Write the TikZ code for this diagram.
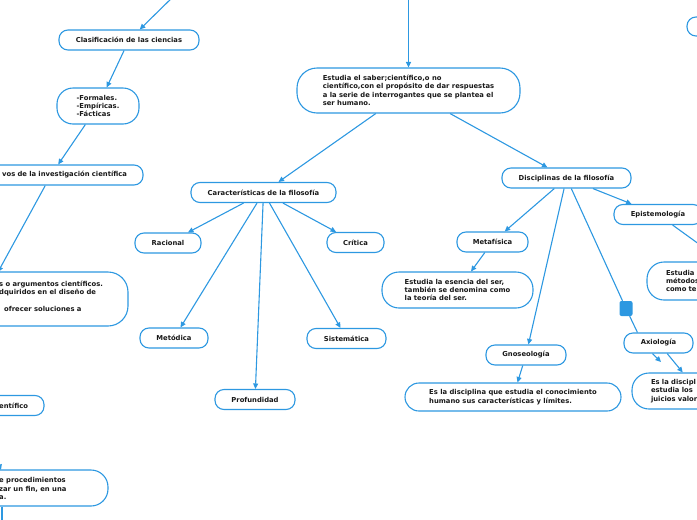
\documentclass[tikz,border=0pt]{standalone}
\usepackage{fontspec}
\setmainfont{DejaVu Sans}
\usepackage{tikz}
\usetikzlibrary{arrows.meta, positioning, calc}
\definecolor{mapblue}{RGB}{45,152,225}
\definecolor{maptext}{RGB}{25,25,25}
\newcommand{\mapsize}{\fontsize{6.8}{8.4}\selectfont}
\tikzset{
    topic/.style={rectangle, rounded corners=9pt, draw=mapblue, line width=1.1pt, fill=white, text=maptext, align=center, minimum height=20pt, inner sep=0pt, font=\mapsize\bfseries},
    note/.style={topic, rounded corners=17pt, align=left},
    tag/.style={inner sep=0pt, text=maptext, align=left, font=\mapsize\bfseries},
    arrow/.style={draw=mapblue, line width=1.1pt, -{Triangle[length=5.5pt, width=5pt]}},
    link/.style={draw=mapblue, line width=1.1pt},
    fold/.style={rectangle, rounded corners=2pt, fill=mapblue, minimum width=13pt, minimum height=15pt, inner sep=0pt}
}

\begin{document}
\begin{tikzpicture}[x=1pt, y=-1pt]
    \useasboundingbox (0,0) rectangle (697,520);
    \clip (0,0) rectangle (697,520);

    % Left branch: ciencias
    \node[topic, minimum width=140pt] (clas) at (129,40) {Clasificación de las ciencias};
    \node[note, minimum width=82pt, minimum height=36pt, rounded corners=16pt] (tipos) at (98,106) {-Formales.\\-Empíricas.\\-Fácticas};
    \node[topic, minimum width=184pt, text width=152pt, align=right] (objetivos) at (51,175) {vos de la investigación científica};
    \node[note, minimum width=188pt, minimum height=54pt, rounded corners=20pt] (goals) at (34,299) {};
    \node[tag, anchor=west] (goalstxt) at (-1,296) {s o argumentos científicos.\\dquiridos en el diseño de\\[8.4pt]\hspace*{5pt}ofrecer soluciones a};
    \node[topic, minimum width=104pt, text width=72pt, align=right] (entif) at (-8,405.5) {entífico};
    \node[note, minimum width=188pt, minimum height=36pt] (proc) at (14,488) {};
    \node[tag, anchor=west] (proctxt) at (-1,488.5) {e procedimientos\\zar un fin, en una\\a.};
    \node[topic, minimum width=100pt, minimum height=19pt] (rtbox) at (737,26.5) {};

    % Centre
    \node[note, minimum width=223pt, minimum height=45pt, rounded corners=20pt] (saber) at (408.5,90.5) {Estudia el saber;científico,o no\\científico,con el propósito de dar respuestas\\a la serie de interrogantes que se plantea el\\ser humano.};

    % Caracteristicas
    \node[topic, minimum width=145pt] (caract) at (263.5,192.5) {Características de la filosofía};
    \node[topic, minimum width=66pt] (racional) at (168,243) {Racional};
    \node[topic, minimum width=57pt] (critica) at (355.5,242.5) {Crítica};
    \node[topic, minimum width=68pt] (metodica) at (174,338) {Metódica};
    \node[topic, minimum width=79pt] (sistematica) at (346.5,338.5) {Sistemática};
    \node[topic, minimum width=80pt] (profund) at (255,399.5) {Profundidad};

    % Disciplinas
    \node[topic, minimum width=129pt] (discip) at (566.5,178) {Disciplinas de la filosofía};
    \node[topic, minimum width=88pt] (epist) at (658,214.5) {Epistemología};
    \node[note, minimum width=152pt, minimum height=38pt, text width=114pt] (estudiam) at (723,281) {Estudia\\métodos\\como te};
    \node[topic, minimum width=71pt] (metaf) at (492.5,242) {Metafísica};
    \node[note, minimum width=151pt, minimum height=36pt] (metatxt) at (457.5,290) {Estudia la esencia del ser,\\también se denomina como\\la teoría del ser.};
    \node[topic, minimum width=80pt] (gnoseo) at (526,355) {Gnoseología};
    \node[note, minimum width=216pt, minimum height=28pt, rounded corners=14pt] (gnosetxt) at (513,397) {Es la disciplina que estudia el conocimiento\\humano sus características y límites.};
    \node[topic, minimum width=69pt] (axio) at (658.5,343) {Axiología};
    \node[note, minimum width=132pt, minimum height=36pt, text width=94pt] (axiotxt) at (698,391) {Es la discipl\\estudia los\\juicios valor};
    \node[fold] (foldaxio) at (626,308.5) {};

    % Free ends off the page
    \coordinate (clasfrom) at (180,-10);
    \coordinate (saberfrom) at (408.5,-10);
    \coordinate (goalsin) at (-2,272);
    \coordinate (procfrom) at (-12,430);
    \coordinate (procin) at (1,470);
    \coordinate (procdown) at (2,530);
    \coordinate (axiohook) at (661,362);

    % Connectors
    \draw[arrow] (clasfrom) -- (clas);
    \draw[arrow] (clas) -- (tipos);
    \draw[arrow] (tipos) -- (objetivos);
    \draw[arrow] (objetivos) -- (goalsin);
    \draw[arrow] (procfrom) -- (procin);
    \draw[link] (proc.south -| procdown) -- (procdown);
    \draw[arrow] (saberfrom) -- (saber);
    \draw[arrow] (saber) -- (caract);
    \draw[arrow] (saber) -- (discip);
    \draw[arrow] (caract) -- (racional);
    \draw[arrow] (caract) -- (critica);
    \draw[arrow] (caract) -- (metodica);
    \draw[arrow] (caract) -- (sistematica);
    \draw[arrow] (caract) -- (profund);
    \draw[arrow] (discip) -- (metaf);
    \draw[arrow] (discip) -- (epist);
    \draw[arrow] (discip) -- (gnoseo);
    \draw[link] (discip) -- (foldaxio) -- ([xshift=14pt]axio.north west);
    \draw[arrow] (epist) -- (estudiam.north);
    \draw[arrow] (metaf) -- (metatxt);
    \draw[arrow] (gnoseo) -- (gnosetxt);
    \draw[arrow] (axio) -- (axiotxt);
    \draw[arrow] ([xshift=-6pt]axio.south) -- (axiohook);

\end{tikzpicture}
\end{document}
